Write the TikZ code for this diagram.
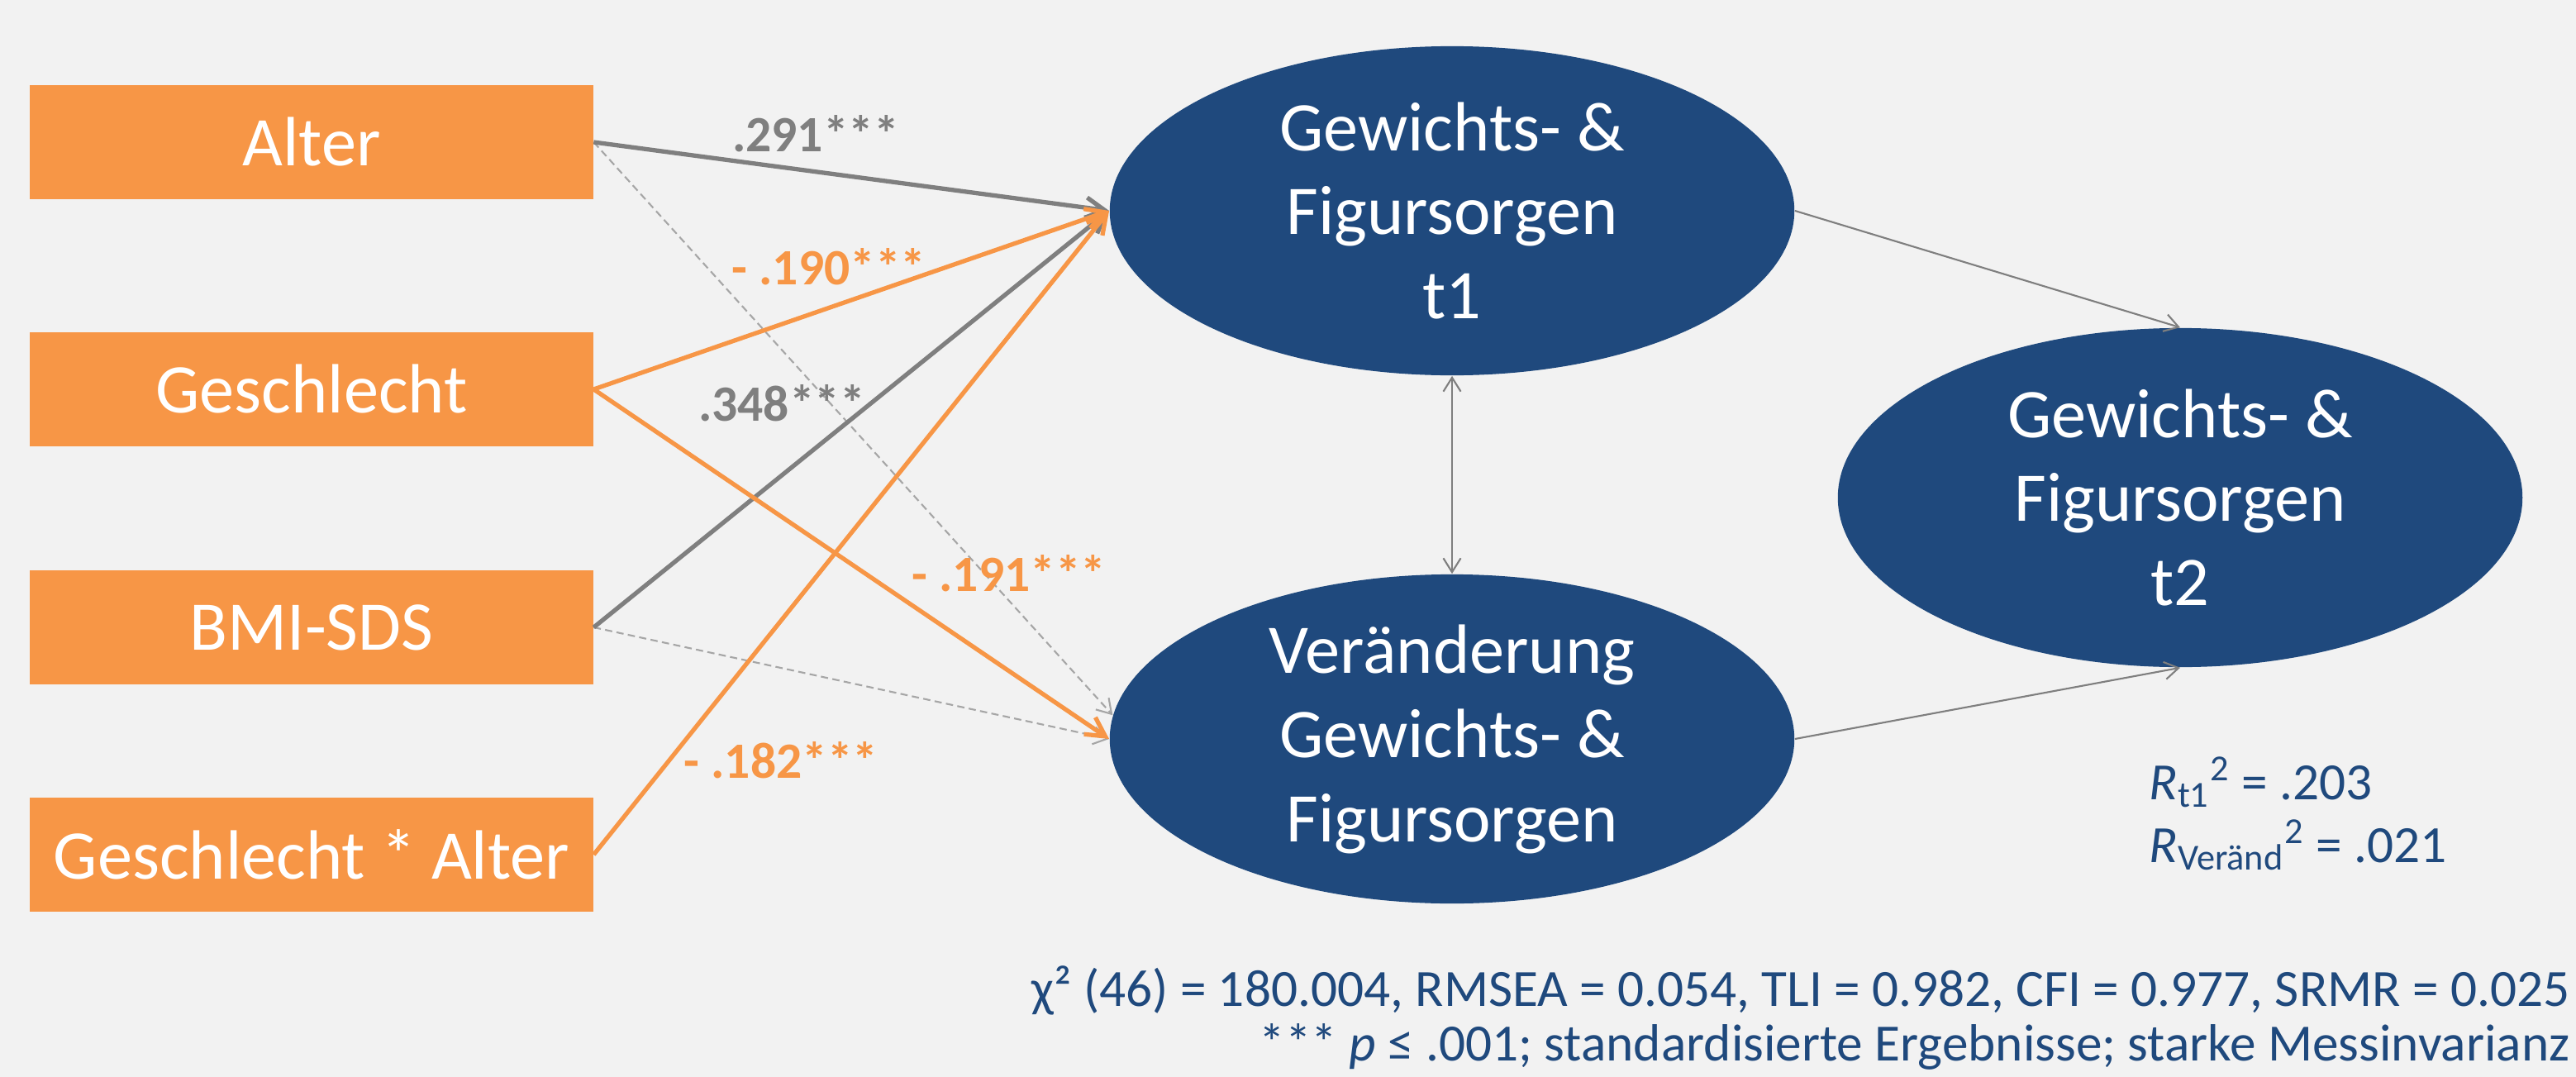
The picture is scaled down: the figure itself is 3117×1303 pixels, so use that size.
\documentclass[tikz,border=0pt]{standalone}
\usepackage{fontspec}
\setmainfont{Carlito}
\usepackage{xcolor}
\usepackage{tikz}
\usetikzlibrary{arrows.meta, shapes.geometric, positioning}

\definecolor{bgc}{HTML}{F2F2F2}
\definecolor{orng}{HTML}{F79646}
\definecolor{navy}{HTML}{1F497D}
\definecolor{grey}{HTML}{7F7F7F}
\definecolor{lgrey}{HTML}{A6A6A6}

\begin{document}
\begin{tikzpicture}[
    x=0.01cm, y=-0.01cm,
    var/.style={fill=orng, text=white, minimum width=6.81cm, minimum height=1.37cm, inner sep=0pt, font=\fontsize{24}{29}\selectfont},
    lat/.style={ellipse, fill=navy, text=white, minimum width=8.28cm, minimum height=3.98cm, inner sep=0pt, align=center, font=\fontsize{24}{29}\selectfont},
    coef/.style={inner sep=0pt, font=\fontsize{17.5}{21}\selectfont\bfseries},
    note/.style={inner sep=0pt, text=navy, font=\fontsize{18}{22}\selectfont},
    strong/.style={-{Straight Barb[length=6.5pt, width=7pt]}, line width=1.5pt},
    weak/.style={line width=0.6pt, draw=grey},
    ns/.style={->, line width=0.6pt, draw=lgrey, dash pattern=on 2.5pt off 1.5pt},
    >={Straight Barb[length=4.8pt, width=6pt]},
  ]
  \path[use as bounding box, fill=bgc] (0,0) rectangle (3117,1303);

  % observed predictors
  \node[var] (v1) at (377,172) {Alter};
  \node[var] (v2) at (377,471) {Geschlecht};
  \node[var] (v3) at (377,759) {BMI-SDS};
  \node[var] (v4) at (377,1034) {Geschlecht * Alter};

  % latent factors
  \node[lat] (f1) at (1757,255) {Gewichts- \&\\Figursorgen\\t1};
  \node[lat] (f2) at (1757,894) {Veränderung\\Gewichts- \&\\Figursorgen};
  \node[lat, minimum height=4.1cm] (f3) at (2638,602) {Gewichts- \&\\Figursorgen\\t2};

  % non-significant paths
  \draw[ns] (v1.east) -- (f2.176);
  \draw[ns] (v3.east) -- (f2.west);

  \draw[strong, grey] (v1.east) -- (f1.west);
  \draw[strong, grey] (v3.east) -- (f1.west);
  \draw[strong, orng] (v2.east) -- (f1.west);
  \draw[strong, orng] (v4.east) -- (f1.west);
  \draw[strong, orng] (v2.east) -- (f2.west);

  \draw[weak, <->] (f1.south) -- (f2.north);
  \draw[weak, ->] (f1.east) -- (f3.north);
  \draw[weak, ->] (f2.east) -- (f3.south);

  % coefficients
  \node[coef, grey] (c1) at (987,162) {.291***};
  \node[coef, orng] (c2) at (1003,323) {- .190***};
  \node[coef, grey] (c3) at (946,488) {.348***};
  \node[coef, orng] (c4) at (1221,694) {- .191***};
  \node[coef, orng] (c5) at (945,920) {- .182***};

  \node[note, anchor=base west] (r1) at (2600,967) {{\itshape R}\textsubscript{t1}\textsuperscript{2} = .203};
  \node[note, anchor=base west] (r2) at (2600,1043) {{\itshape R}\textsubscript{Veränd}\textsuperscript{2} = .021};

  \node[note, anchor=base east] (b1) at (3110,1217) {χ² (46) = 180.004, RMSEA = 0.054, TLI = 0.982, CFI = 0.977, SRMR = 0.025};
  \node[note, anchor=base east] (b2) at (3110,1283) {*** {\itshape p} ≤ .001; standardisierte Ergebnisse; starke Messinvarianz};
\end{tikzpicture}
\end{document}
